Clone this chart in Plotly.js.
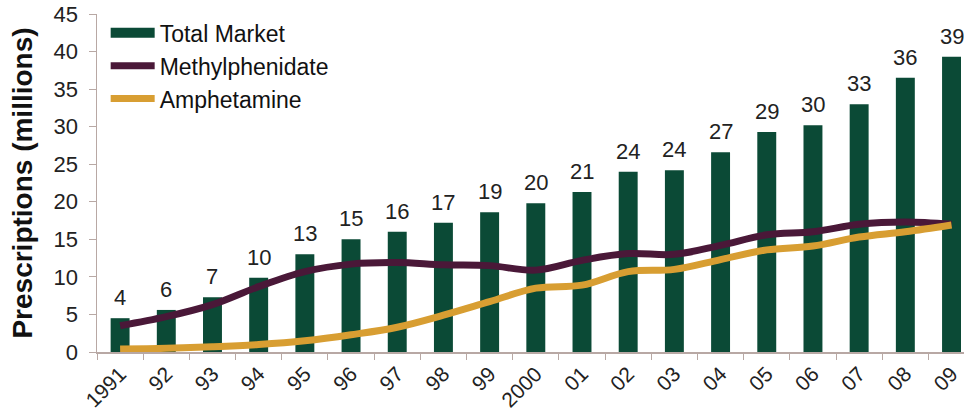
<!DOCTYPE html>
<html>
<head>
<meta charset="utf-8">
<script src="https://cdn.plot.ly/plotly-3.0.1.min.js"></script>
<style>html,body{margin:0;padding:0;background:#fff;}#chart{width:964px;height:415px;}</style>
</head>
<body>
<div id="chart"></div>
<script>
const years = ["1991","92","93","94","95","96","97","98","99","2000","01","02","03","04","05","06","07","08","09"];
const totalMarket = [4.5,5.6,7.3,9.9,13.0,15.0,16.0,17.2,18.6,19.8,21.3,24.0,24.2,26.6,29.3,30.2,33.0,36.5,39.3];
const totalLabels = ["4","6","7","10","13","15","16","17","19","20","21","24","24","27","29","30","33","36","39"];
const methylphenidate = [3.5,4.7,6.3,8.7,10.7,11.7,11.9,11.6,11.5,10.9,12.2,13.1,13.0,14.2,15.6,16.0,17.0,17.3,17.0];
const amphetamine = [0.4,0.5,0.7,1.0,1.5,2.3,3.3,4.9,6.7,8.5,8.9,10.7,11.0,12.3,13.6,14.1,15.3,16.0,16.9];

const font = "Liberation Sans, Arial, sans-serif";
const green = "#0b4a36";
const traces = [
  {type:"bar", name:"Total Market", x:years, y:totalMarket, width:0.41, showlegend:false,
   marker:{color:green}},
  // legend entry for the bars, drawn as a thick swatch
  {type:"scatter", mode:"lines", name:"Total Market", x:[null], y:[null], legendgroup:"a",
   line:{color:green, width:13}},
  {type:"scatter", mode:"lines", name:"Methylphenidate", x:years, y:methylphenidate, legendgroup:"b",
   line:{color:"#4a1838", width:7, shape:"spline", smoothing:1}},
  {type:"scatter", mode:"lines", name:"Amphetamine", x:years, y:amphetamine, legendgroup:"c",
   line:{color:"#d89e32", width:7, shape:"spline", smoothing:1}}
];
// value labels above bars; x given as category index so numeric-looking names are not misread
const annotations = years.map((yr, i) => ({
  x: i, y: totalMarket[i], xref:"x", yref:"y", text: totalLabels[i],
  showarrow:false, yanchor:"bottom", yshift:6,
  font:{family:font, size:22, color:"#222"}
}));
const layout = {
  width:964, height:415,
  margin:{l:97, r:0, t:14, b:63},
  paper_bgcolor:"#fff", plot_bgcolor:"#fff",
  font:{family:font, color:"#222"},
  showlegend:true,
  annotations: annotations,
  legend:{x:0.01, y:1.008, xanchor:"left", yanchor:"top", bgcolor:"rgba(0,0,0,0)",
          font:{family:font, size:23, color:"#111"}, itemwidth:44, tracegroupgap:0},
  xaxis:{type:"category", range:[-0.5,18.27], tickson:"boundaries", ticks:"outside", ticklen:6,
         tickcolor:"#b8a8a4", showline:true, linecolor:"#b8a8a4", linewidth:1.5,
         tickangle:-45, tickfont:{family:font, size:21, color:"#222"}, showgrid:false, zeroline:false},
  yaxis:{range:[0,45], dtick:5, ticks:"outside", ticklen:7, tickcolor:"#b8a8a4",
         showline:true, linecolor:"#b8a8a4", linewidth:1.5, showgrid:false, zeroline:false,
         ticklabelstandoff:6,
         tickfont:{family:font, size:22, color:"#222"},
         title:{text:"Prescriptions (millions)", font:{family:font, size:28, color:"#111", weight:"bold"}, standoff:13}}
};
Plotly.newPlot("chart", traces, layout, {staticPlot:true});
</script>
</body>
</html>
